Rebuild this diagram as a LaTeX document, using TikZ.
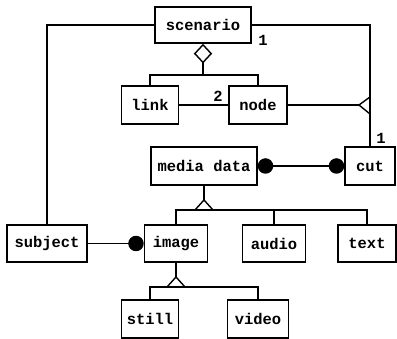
\documentclass[tikz,border=0pt]{standalone}
\usepackage{fontspec}
\setmonofont{Liberation Mono}
\usetikzlibrary{arrows.meta}

\begin{document}
\begin{tikzpicture}[x=0.025cm, y=-0.025cm, every path/.style={line width=1pt},
    entity/.style={draw, line width=1.1pt, inner sep=0pt, minimum height=37.5*0.025cm, font=\fontsize{11}{13}\selectfont\ttfamily\bfseries},
    card/.style={inner sep=0pt, font=\fontsize{11}{13}\selectfont\ttfamily\bfseries},
    dot/.style={{Circle[length=11pt]}-{Circle[length=11pt]}}]
    \useasboundingbox (0,0) rectangle (397,339);

    \node[entity, minimum width=96*0.025cm, minimum height=36*0.025cm] (scenario) at (203,25) {scenario};

    \node[entity, minimum width=57*0.025cm] (link) at (150,105) {link};
    \node[entity, minimum width=58*0.025cm] (node) at (258,105) {node};

    \node[entity, minimum width=106*0.025cm] (mediadata) at (204,166) {media data};
    \node[entity, minimum width=50*0.025cm] (cut) at (370,166) {cut};

    \node[entity, minimum width=80*0.025cm] (subject) at (47,243.5) {subject};
    \node[entity, minimum width=63*0.025cm] (image) at (176,243.5) {image};
    \node[entity, minimum width=63*0.025cm] (audio) at (274,243.5) {audio};
    \node[entity, minimum width=58*0.025cm] (text) at (367,243.5) {text};

    \node[entity, minimum width=57*0.025cm] (still) at (150,319) {still};
    \node[entity, minimum width=61*0.025cm] (video) at (258,319) {video};

    \node[card] (c1) at (263,40) {1};
    \node[card] (c2) at (218,96) {2};
    \node[card] (c3) at (381,138) {1};

    \coordinate (agg) at (203,75);
    \coordinate (many) at (359,105);
    \coordinate (gen1) at (204,200);
    \coordinate (gen2) at (176,277);

    \draw[] (scenario.west) -| (subject.north);
    \draw[] (scenario.east) -| (cut.north);
    \draw[-{Diamond[open, length=14pt, width=13pt, line width=1pt]}] (agg) -- (scenario.south);
    \draw[] (link.north) |- (agg) -| (node.north);
    \draw[] (link.east) -- (node.west);
    \draw[] (node.east) -- (many);
    \draw[] (370,97) -- (many) -- (370,114);
    \draw[dot] (mediadata.east) -- (cut.west);
    \draw[] (mediadata.south) -- (gen1);
    \draw[] (195,210) -- (gen1) -- (213,210);
    \draw[] (image.north) |- (text.north |- 0,210) -- (text.north);
    \draw[] (audio.north) -- (audio.north |- 0,210);
    \draw[-{Circle[length=11pt]}] (subject.east) -- (image.west);
    \draw[] (image.south) -- (gen2);
    \draw[] (167,287) -- (gen2) -- (185,287);
    \draw[] (still.north) |- (gen2 |- 0,287) -| (video.north);
\end{tikzpicture}
\end{document}
